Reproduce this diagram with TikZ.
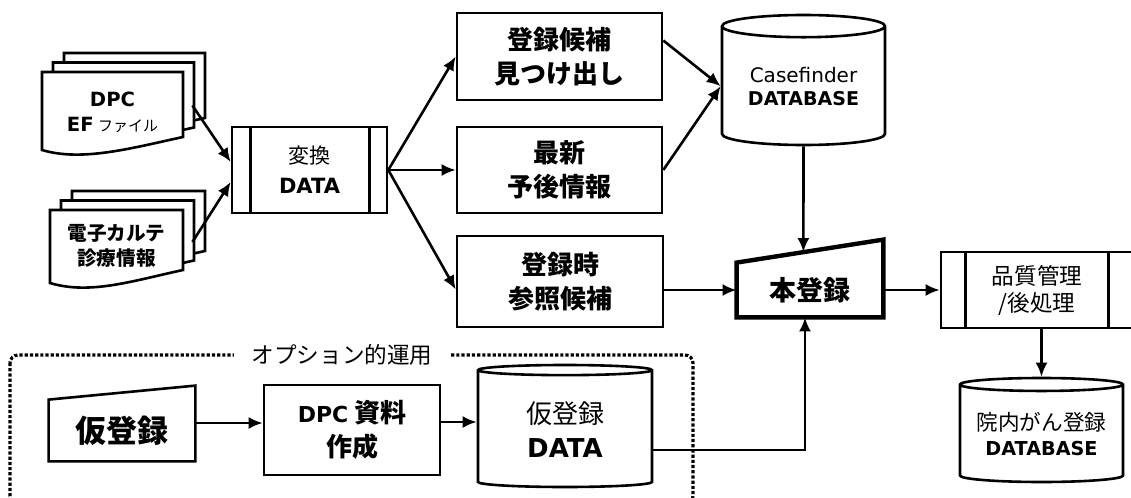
\documentclass[tikz,border=0pt]{standalone}
\usepackage{fontspec}
\setmainfont{Noto Sans CJK JP}
\newfontfamily\lat{DejaVu Sans}
\usetikzlibrary{arrows.meta, shapes.geometric, calc}
\tikzset{box/.style={draw, line width=1.3pt, fill=white, align=center, inner sep=0pt}}
\tikzset{db/.style={cylinder, shape border rotate=90, anchor=shape center, draw, line width=1.3pt, fill=white, align=center, inner sep=0pt}}
\tikzset{page/.style={draw, line width=1.3pt, fill=white}}
\tikzset{flow/.style={-{Latex[length=7pt, width=6pt]}, line width=1.3pt}}
\tikzset{optframe/.style={line width=1.6pt, dash pattern=on 1.6pt off 1pt, rounded corners=4pt}}

% stack of three pages: corner of front page, width, height of right edge
\newcommand{\docstack}[4]{%
  \foreach \k in {2,1,0}
    \draw[page, shift={(#1+\k*11,#2-\k*9.5)}] (0,0) -- (#3,0) -- (#3,#4)
      .. controls (#3-51,#4+11) and (40,#4+25) .. (0,#4+13) -- cycle;}

\begin{document}
\begin{tikzpicture}[x=0.5pt, y=-0.5pt]
\useasboundingbox (0,0) rectangle (1131,498);

% source files
\docstack{42}{72}{141}{65}
\docstack{50}{210}{133}{60}
\node[align=center, minimum width=70.5pt, font=\fontsize{9.8}{12.5}\selectfont\bfseries] (efile) at (112.5,112.5)
  {{\lat DPC}\\{\lat EF} {\mdseries\fontsize{7.5}{12.5}\selectfont ファイル}};
\node[align=center, minimum width=66.5pt, font=\fontsize{9.8}{12.5}\selectfont\bfseries] (karte) at (116.5,245.5)
  {電子カルテ\\診療情報};

% conversion
\node[box, minimum width=77.5pt, minimum height=43pt, font=\fontsize{10.5}{15}\selectfont] (henkan) at (309.5,170)
  {変換\\{\lat\bfseries DATA}};
\draw[line width=1.3pt] ([xshift=10pt]henkan.north west) -- ([xshift=10pt]henkan.south west)
  ([xshift=-9.5pt]henkan.north east) -- ([xshift=-9.5pt]henkan.south east);

% extracted lists
\node[box, minimum width=102.5pt, minimum height=43.5pt, font=\fontsize{13}{17}\selectfont\bfseries] (touroku) at (559.5,56.5)
  {登録候補\\見つけ出し};
\node[box, minimum width=102.5pt, minimum height=43pt, font=\fontsize{13}{17}\selectfont\bfseries] (saishin) at (559.5,170)
  {最新\\予後情報};
\node[box, minimum width=103pt, minimum height=45.5pt, font=\fontsize{13}{17}\selectfont\bfseries] (tourokuji) at (560,281.5)
  {登録時\\参照候補};

\node[db, minimum width=81.5pt, minimum height=65pt, aspect=0.2, font=\lat\fontsize{9.5}{11.5}\selectfont] (cf) at (803.5,80)
  {{\fontsize{10}{11.5}\selectfont Casefinder}\\{\bfseries DATABASE}};

% registration
\node[minimum width=73pt, minimum height=27pt, font=\fontsize{13.5}{16}\selectfont\bfseries] (hon) at (810,290) {本登録};
\draw[line width=2.2pt] (hon.south west) -- (hon.south east) -- ([yshift=11.5pt]hon.north east) -- (hon.north west) -- cycle;
\coordinate (hontop) at ($(hon.north west)!0.455!([yshift=11.5pt]hon.north east)$);

\node[box, minimum width=96pt, minimum height=38pt, font=\fontsize{11.3}{13.5}\selectfont] (hinshitsu) at (1037,290)
  {品質管理\\/後処理};
\draw[line width=1.3pt] ([xshift=13pt]hinshitsu.north west) -- ([xshift=13pt]hinshitsu.south west)
  ([xshift=-13pt]hinshitsu.north east) -- ([xshift=-13pt]hinshitsu.south east);

\node[db, minimum width=81.5pt, minimum height=52pt, aspect=0.1, font=\fontsize{10.8}{12.5}\selectfont] (innai) at (1041.5,430)
  {院内がん登録\\{\lat\bfseries\fontsize{9.6}{12.5}\selectfont DATABASE}};

% optional path
\draw[optframe] (10,355) rectangle (693,504);
\node[fill=white, inner xsep=9pt, inner ysep=1pt, font=\fontsize{11.3}{13}\selectfont] (opt) at (342,355) {オプション的運用};

\node[minimum width=73pt, minimum height=30.5pt, font=\fontsize{15.5}{18}\selectfont\bfseries] (kari) at (122,430.5) {仮登録};
\draw[line width=1.3pt] (kari.south west) -- (kari.south east) -- ([yshift=7pt]kari.north east) -- (kari.north west) -- cycle;

\node[box, minimum width=88pt, minimum height=45pt, font=\fontsize{13}{17}\selectfont\bfseries] (shiryo) at (352,430)
  {{\lat\fontsize{11}{17}\selectfont DPC} 資料\\作成};

\node[db, minimum width=87pt, minimum height=61pt, aspect=0.13, font=\fontsize{13}{17}\selectfont] (karidb) at (565,426)
  {仮登録\\{\lat\bfseries DATA}};

% arrows
\draw[flow] ([xshift=4.5pt, yshift=3.5pt]efile.east) -- ([yshift=4pt]henkan.west);
\draw[flow] ([xshift=4.5pt, yshift=1.75pt]karte.east) -- ([yshift=-6pt]henkan.west);
\draw[flow] (henkan.east) -- (touroku.west);
\draw[flow] (henkan.east) -- (saishin.west);
\draw[flow] (henkan.east) -- ([yshift=-4pt]tourokuji.west);
\draw[flow] ([yshift=8pt]touroku.east) -- (cf.west);
\draw[flow] (saishin.east) -- (cf.west);
\draw[flow] (cf.south) -- (hontop);
\draw[flow] (tourokuji.east |- hon.west) -- (hon.west);
\draw[flow] (hon.east) -- (hinshitsu.west);
\draw[flow] (innai.north |- hinshitsu.south) -- (innai.north);
\draw[flow] ([yshift=3.75pt]kari.east) -- ([yshift=3.75pt]kari.east -| shiryo.west);
\draw[flow] ([yshift=4pt]shiryo.east) -- ([yshift=4pt]shiryo.east -| karidb.west);
\draw[flow] ([yshift=-10.5pt]karidb.east) -| ([xshift=-2.5pt]hon.south);
\end{tikzpicture}
\end{document}
